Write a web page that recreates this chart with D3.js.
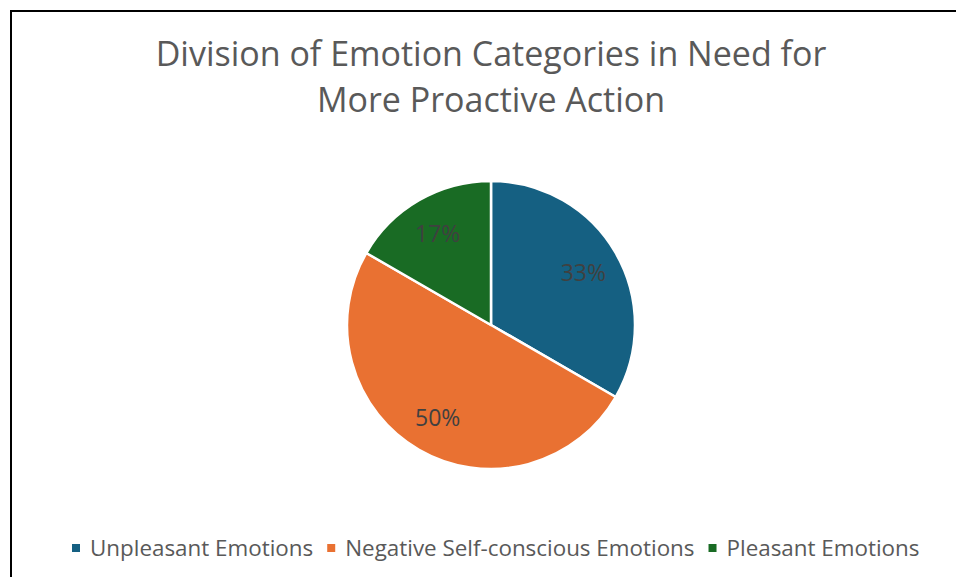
<!DOCTYPE html>
<html>
<head>
<meta charset="utf-8">
<script src="https://cdn.jsdelivr.net/npm/d3@7/dist/d3.min.js"></script>
<style>
  html, body { margin: 0; padding: 0; background: #fff; }
  svg { display: block; font-family: "Open Sans", "Noto Sans", sans-serif; }
</style>
</head>
<body>
<svg id="chart" width="956" height="577"></svg>
<script>
// Share of emotion categories needing more proactive action
const categories = ["Unpleasant Emotions", "Negative Self-conscious Emotions", "Pleasant Emotions"];
const counts = [2, 3, 1];
const colors = ["#156082", "#E97132", "#196B24"];
const titleLines = ["Division of Emotion Categories in Need for", "More Proactive Action"];

const W = 956, H = 577;
const svg = d3.select("#chart");

// Chart frame (extends past the right and bottom edges)
svg.append("rect")
  .attr("x", 11).attr("y", 11)
  .attr("width", W).attr("height", H)
  .attr("fill", "#fff").attr("stroke", "#000").attr("stroke-width", 2);

// Title
svg.append("text")
  .attr("text-anchor", "middle")
  .attr("fill", "#595959")
  .attr("font-size", 34)
  .selectAll("tspan")
  .data(titleLines)
  .join("tspan")
  .attr("x", 491)
  .attr("y", (d, i) => 66 + i * 46)
  .text(d => d);

// Pie
const cx = 491, cy = 325, R = 144;
const pie = d3.pie().sort(null).value(d => d)(counts);
const total = d3.sum(counts);
const arc = d3.arc().innerRadius(0).outerRadius(R);
const labelArc = d3.arc().innerRadius(R * 0.74).outerRadius(R * 0.74);

const g = svg.append("g").attr("transform", `translate(${cx},${cy})`);
g.selectAll("path.slice")
  .data(pie)
  .join("path")
  .attr("class", "slice")
  .attr("d", arc)
  .attr("fill", (d, i) => colors[i])
  .attr("stroke", "#fff")
  .attr("stroke-width", 2.5)
  .attr("stroke-linejoin", "round");

g.selectAll("text.pct")
  .data(pie)
  .join("text")
  .attr("class", "pct")
  .attr("transform", d => `translate(${labelArc.centroid(d)})`)
  .attr("text-anchor", "middle")
  .attr("dominant-baseline", "central")
  .attr("fill", "#404040")
  .attr("font-size", 23)
  .text(d => Math.round(d.value / total * 100) + "%");

// Legend
const legend = svg.append("g").attr("font-size", 22.4).attr("fill", "#595959");
let lx = 72;
const ly = 548;
categories.forEach((c, i) => {
  legend.append("rect")
    .attr("x", lx).attr("y", ly - 4)
    .attr("width", 8).attr("height", 8)
    .attr("fill", colors[i]);
  const t = legend.append("text")
    .attr("x", lx + 18).attr("y", ly + 7.5)
    .text(c);
  lx += 18 + t.node().getComputedTextLength() + 14;
});
</script>
</body>
</html>
